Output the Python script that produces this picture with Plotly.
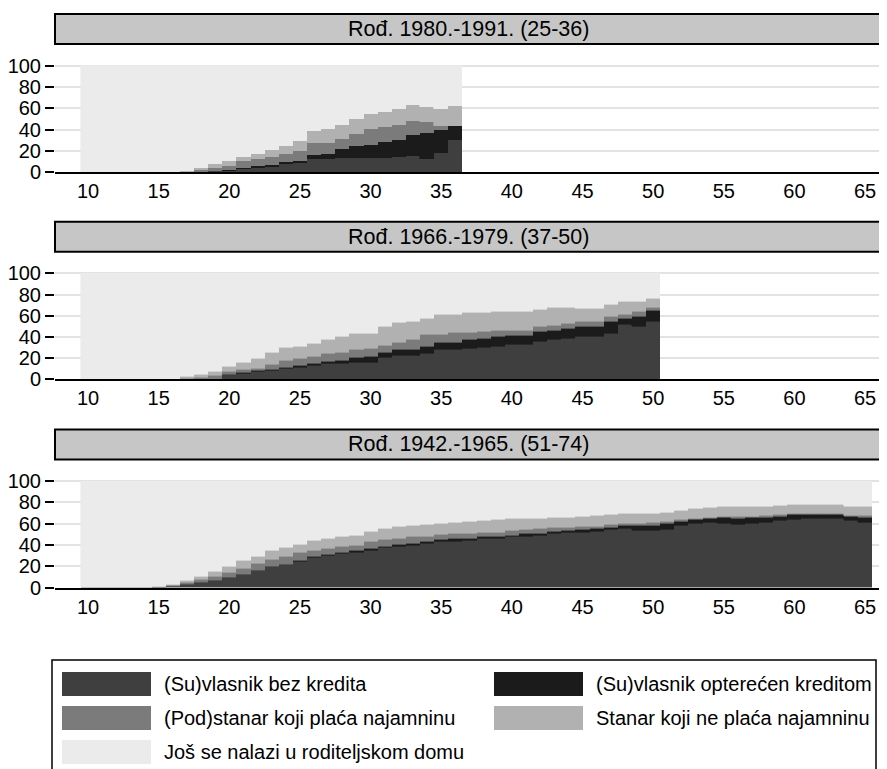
import plotly.graph_objects as go

# The page body has an 8px margin, so the figure is sized to fit the window.
OFF = 8
W, H = 887 - OFF, 769 - OFF
FONT = "Liberation Sans, Arial, sans-serif"

series_names = [
    "(Su)vlasnik bez kredita",
    "(Su)vlasnik opterećen kreditom",
    "(Pod)stanar koji plaća najamninu",
    "Stanar koji ne plaća najamninu",
    "Još se nalazi u roditeljskom domu",
]
series_colors = ["#3f3f3f", "#1b1b1b", "#7b7b7b", "#b1b1b1", "#ebebeb"]

panel_titles = [
    "Rođ. 1980.-1991. (25-36)",
    "Rođ. 1966.-1979. (37-50)",
    "Rođ. 1942.-1965. (51-74)",
]

x_ticks = [10, 15, 20, 25, 30, 35, 40, 45, 50, 55, 60, 65]
y_ticks = [0, 20, 40, 60, 80, 100]

# ---------------- Panel 1: Rođ. 1980.-1991. (ages 10..36)
ages_p1 = list(range(10, 37))
p1_own = [0, 0, 0, 0, 0, 0, 0, 0, 0.6, 1.2, 1.6, 2.8, 4.0, 5.0, 8.1, 9.0, 12.5, 12.8, 13.4, 13.7,
          13.7, 13.7, 14.0, 15.0, 12.8, 18.0, 30.5]
p1_credit = [0, 0, 0, 0, 0, 0, 0, 0, 0, 0.3, 0.9, 1.0, 1.6, 1.6, 1.6, 1.6, 3.8, 4.7, 8.6, 11.3,
             12.3, 14.7, 16.0, 20.0, 24.2, 22.0, 13.0]
p1_rent = [0, 0, 0, 0, 0, 0, 0, 0.5, 1.3, 2.9, 3.7, 6.5, 6.6, 7.4, 7.5, 9.1, 11.0, 10.3, 9.5, 11.0,
           15.0, 14.1, 14.0, 13.0, 10.0, 3.0, 0.0]
p1_free = [0, 0, 0, 0, 0, 0, 0, 0.7, 2.5, 3.1, 4.1, 4.1, 4.7, 7.0, 7.5, 9.6, 11.4, 13.2, 13.1, 13.7,
           13.4, 14.5, 15.0, 15.6, 14.4, 16.5, 18.7]
p1_parents = [100, 100, 100, 100, 100, 100, 100, 98.8, 95.6, 92.5, 89.7, 85.6, 83.1, 79.0, 75.3,
              70.7, 61.3, 59.0, 55.4, 50.3, 45.6, 43.0, 41.0, 36.4, 38.6, 40.5, 37.8]

# ---------------- Panel 2: Rođ. 1966.-1979. (ages 10..50)
ages_p2 = list(range(10, 51))
p2_own = [0, 0, 0, 0, 0, 0, 0,
          0, 0, 0, 4.7, 5.6, 6.9, 8.1, 10.3, 11.2, 12.5, 14.4, 14.8, 15.8, 15.6, 20.6, 22.2, 22.2,
          24.4, 27.5, 27.5, 29.0, 30.0, 31.2, 32.2, 32.2, 35.3, 36.9, 38.4, 40.0, 40.6, 43.0, 51.6,
          49.4, 54.0]
p2_credit = [0, 0, 0, 0, 0, 0, 0,
             0, 0, 0, 0, 0.9, 0.9, 1.3, 0.9, 1.6, 1.9, 2.2, 3.2, 4.5, 5.6, 4.4, 5.3, 5.3, 6.8, 6.9,
             6.9, 8.8, 8.4, 8.8, 8.8, 9.4, 9.4, 9.3, 9.4, 9.4, 9.4, 11.0, 5.6, 10.0, 11.0]
p2_rent = [0, 0, 0, 0, 0, 0, 0,
           1.0, 1.5, 3.0, 2.5, 2.3, 2.2, 4.0, 6.0, 6.2, 6.8, 7.2, 6.8, 7.7, 7.8, 7.0, 7.5, 9.5, 11.3,
           8.1, 9.3, 5.9, 6.3, 5.6, 4.6, 4.0, 4.7, 4.1, 4.7, 4.6, 4.7, 4.8, 3.8, 4.0, 3.0]
p2_free = [0, 0, 0, 0, 0, 0, 0,
           1.0, 2.5, 4.2, 4.8, 6.8, 9.7, 11.6, 12.5, 11.6, 12.6, 13.2, 15.2, 15.0, 14.5, 17.4, 18.0,
           17.0, 14.5, 18.5, 17.3, 18.8, 17.8, 17.8, 17.8, 17.8, 16.2, 16.9, 14.7, 12.6, 11.9, 11.5,
           11.8, 9.4, 8.0]
p2_parents = [100, 100, 100, 100, 100, 100, 100,
              98.0, 96.0, 92.8, 88.0, 84.4, 80.3, 75.0, 70.3, 69.4, 66.2, 63.0, 60.0, 57.0, 56.5,
              50.6, 47.0, 46.0, 43.0, 39.0, 39.0, 37.5, 37.5, 36.6, 36.6, 36.6, 34.4, 32.8, 32.8,
              33.4, 33.4, 29.7, 27.2, 27.2, 24.0]

# ---------------- Panel 3: Rođ. 1942.-1965. (ages 10..65)
ages_p3 = list(range(10, 66))
p3_own = [0, 0, 0, 0, 0,
          0.5, 1.5, 3.1, 5.0, 6.5, 9.7, 12.8, 16.5, 19.6, 22.1,
          25.0, 28.3, 30.2, 32.0, 33.3, 34.9, 37.4, 38.9, 39.3, 41.4,
          43.0, 43.9, 44.5, 45.8, 46.1, 47.7, 48.6, 49.2, 50.8, 51.7,
          52.3, 53.0, 54.5, 55.5, 54.0, 54.0, 55.0, 58.6, 60.1, 61.7,
          60.1, 59.5, 60.7, 61.7, 63.2, 63.9, 64.8, 65.4, 64.8, 63.2, 61.7]
p3_credit = [0, 0, 0, 0, 0,
             0, 0, 0, 0, 0, 0, 0, 0, 0, 0,
             0.9, 1.3, 1.3, 1.0, 1.3, 1.9, 1.6, 1.9, 2.1, 2.2,
             2.2, 2.2, 2.2, 1.9, 2.5, 1.5, 2.2, 2.2, 2.2, 2.2,
             2.2, 3.1, 2.5, 3.1, 4.6, 4.6, 5.1, 4.0, 3.8, 3.7,
             5.6, 5.3, 5.0, 4.7, 4.1, 4.9, 4.0, 3.4, 4.0, 3.8, 4.7]
p3_rent = [0, 0, 0, 0, 0,
           0.2, 0.8, 1.9, 2.8, 3.8, 4.6, 5.2, 6.2, 6.9, 7.5,
           6.8, 5.6, 5.3, 5.3, 5.3, 6.2, 6.2, 5.2, 6.3, 5.0,
           5.0, 4.7, 4.7, 4.6, 3.7, 4.7, 3.7, 4.1, 3.4, 3.1,
           3.1, 1.5, 2.2, 1.5, 1.7, 3.1, 2.5, 1.3, 0.9, 1.0,
           1.3, 2.2, 1.6, 1.5, 1.5, 0.7, 1.3, 0.7, 1.3, 0.9, 1.5]
p3_free = [0, 0, 0, 0, 0,
           0.3, 1.1, 2.2, 3.2, 4.7, 5.9, 7.2, 6.9, 8.1, 8.1,
           8.1, 8.8, 9.2, 9.4, 9.3, 10.0, 10.3, 11.6, 10.9, 10.9,
           10.5, 10.9, 11.2, 10.9, 11.9, 10.9, 10.3, 9.9, 10.0, 9.4,
           9.7, 10.3, 9.3, 9.4, 9.5, 8.3, 8.4, 8.7, 9.3, 9.3,
           9.3, 9.3, 9.3, 8.7, 8.5, 8.4, 7.8, 8.4, 8.4, 8.4, 8.4]
p3_parents = [100, 100, 100, 100, 100,
              99.0, 96.6, 92.8, 89.0, 85.0, 79.8, 74.8, 70.4, 65.4, 62.3,
              59.2, 56.0, 54.0, 52.3, 50.8, 47.0, 44.5, 42.4, 41.4, 40.5,
              39.3, 38.3, 37.4, 36.8, 35.8, 35.2, 35.2, 34.6, 33.6, 33.6,
              32.7, 32.1, 31.5, 30.5, 30.2, 30.0, 29.0, 27.4, 25.9, 24.3,
              23.7, 23.7, 23.4, 23.4, 22.7, 22.1, 22.1, 22.1, 21.5, 23.7, 23.7]

panels = [
    (ages_p1, [p1_own, p1_credit, p1_rent, p1_free, p1_parents]),
    (ages_p2, [p2_own, p2_credit, p2_rent, p2_free, p2_parents]),
    (ages_p3, [p3_own, p3_credit, p3_rent, p3_free, p3_parents]),
]


def px(X):
    """window pixel x -> paper x"""
    return (X - OFF) / W


def py(Y):
    """window pixel y -> paper y"""
    return 1 - (Y - OFF) / H


plot_left, plot_right = 55, 882
panel_geom = [(44, 172.3), (251.7, 379.3), (459.4, 587.7)]
strip_h = 30

fig = go.Figure()
for i, (ages, layers) in enumerate(panels):
    suffix = "" if i == 0 else str(i + 1)
    for name, color, vals in zip(series_names, series_colors, layers):
        fig.add_trace(go.Bar(
            x=ages, y=vals, name=name, width=1,
            marker=dict(color=color, line=dict(color=color, width=0.6)),
            xaxis="x" + suffix, yaxis="y" + suffix,
            showlegend=False, hoverinfo="skip",
        ))

layout = dict(
    width=W, height=H,
    margin=dict(l=0, r=0, t=0, b=0),
    paper_bgcolor="white", plot_bgcolor="white",
    barmode="stack", bargap=0,
    font=dict(family=FONT, size=20, color="black"),
    showlegend=False,
)

shapes = []
annotations = []
for i, (top, bottom) in enumerate(panel_geom):
    suffix = "" if i == 0 else str(i + 1)
    layout["xaxis" + suffix] = dict(
        domain=[px(plot_left), px(plot_right)],
        range=[7.66, 66.2],
        anchor="y" + suffix,
        tickmode="array", tickvals=x_ticks,
        ticks="",
        showgrid=False, zeroline=False,
        showline=True, linecolor="black", linewidth=2,
        tickfont=dict(family=FONT, size=20, color="black"),
        automargin=False, fixedrange=True,
    )
    layout["yaxis" + suffix] = dict(
        domain=[py(bottom), py(top)],
        range=[0, 120.4],
        anchor="x" + suffix,
        tickmode="array", tickvals=y_ticks,
        ticks="outside", ticklen=9, tickwidth=1.5, tickcolor="black",
        showgrid=True, gridcolor="#e3e3e3", gridwidth=1.5,
        zeroline=False, showline=False,
        tickfont=dict(family=FONT, size=20, color="black"),
        automargin=False, fixedrange=True,
    )
    shapes.append(dict(
        type="rect", xref="paper", yref="paper",
        x0=px(plot_left), x1=px(892), y0=py(top), y1=py(top - strip_h),
        fillcolor="#c6c6c6", line=dict(color="black", width=2), layer="above",
    ))
    annotations.append(dict(
        text=panel_titles[i], xref="paper", yref="paper",
        x=px(468), y=py(top - strip_h / 2),
        xanchor="center", yanchor="middle", showarrow=False,
        font=dict(family=FONT, size=21.5, color="black"),
    ))

# legend box (its bottom edge lies below the visible area, as in the reference)
shapes.append(dict(
    type="rect", xref="paper", yref="paper",
    x0=px(52), x1=px(876), y0=py(790), y1=py(660),
    fillcolor="white", line=dict(color="black", width=1.5),
))
legend_slots = [
    (62, 684), (494, 684),
    (62, 718), (494, 718),
    (62, 752),
]
for k, (sx, sy) in enumerate(legend_slots):
    shapes.append(dict(
        type="rect", xref="paper", yref="paper",
        x0=px(sx), x1=px(sx + 89), y0=py(sy + 12), y1=py(sy - 12),
        fillcolor=series_colors[k], line=dict(width=0),
    ))
    annotations.append(dict(
        text=series_names[k], xref="paper", yref="paper",
        x=px(sx + 100), y=py(sy), xanchor="left", yanchor="middle",
        showarrow=False, font=dict(family=FONT, size=20, color="black"),
    ))

layout["shapes"] = shapes
layout["annotations"] = annotations
fig.update_layout(**layout)
fig.write_html("out.html")
